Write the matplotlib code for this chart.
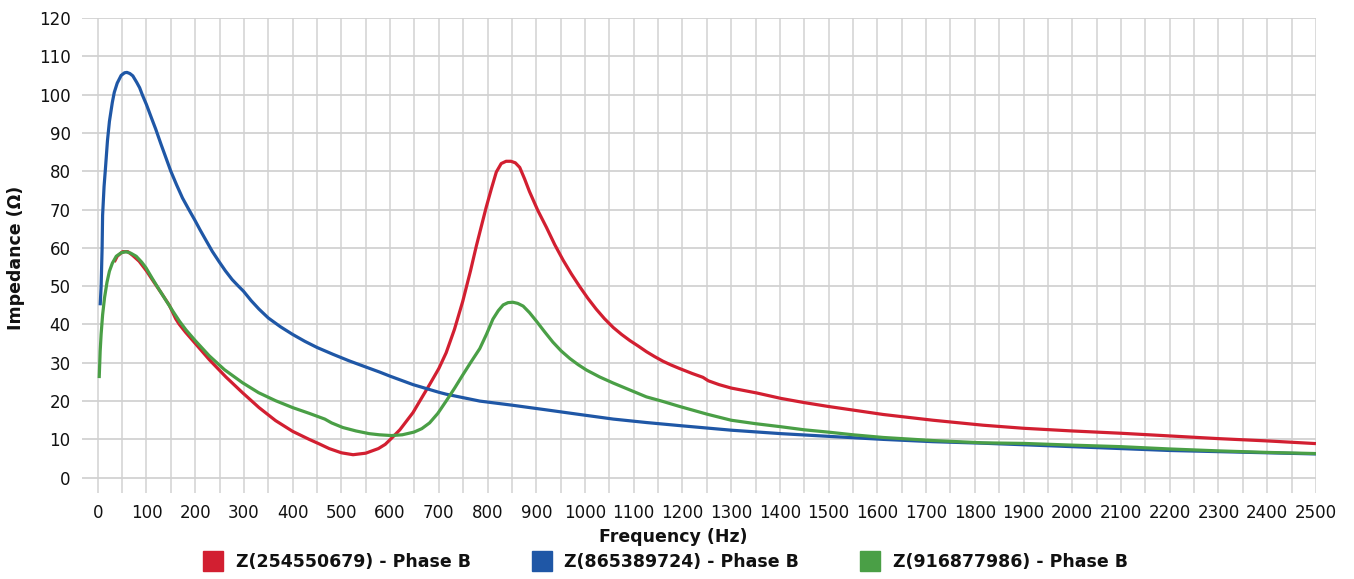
import matplotlib
matplotlib.use("Agg")
import matplotlib.pyplot as plt
from matplotlib.lines import Line2D

# ---- data ----
blue_f = [5, 7, 9, 10, 13, 16, 20, 24, 30, 34, 40, 48, 55, 60, 66, 72, 80, 86, 92, 100,
          110, 119, 130, 140, 150, 162, 174, 187, 199, 210, 222, 235, 249, 262, 276, 288,
          299, 315, 331, 350, 375, 400, 425, 450, 483, 516, 550, 578, 600, 647, 700, 715,
          784, 852, 921, 989, 1058, 1126, 1194, 1300, 1402, 1499, 1612, 1714, 1817, 1900,
          2000, 2100, 2200, 2300, 2400, 2500]
blue_z = [45, 50, 60, 68.5, 76, 81, 88, 93, 98, 100.6, 103, 105, 105.7, 105.8, 105.5, 104.9,
          103.2, 101.8, 99.8, 97.4, 94, 91, 87, 83.5, 80, 76.4, 73, 70, 67.3, 64.7, 62, 59.1,
          56.4, 54, 51.7, 50.1, 48.7, 46.2, 44, 41.7, 39.4, 37.4, 35.6, 34, 32.2, 30.5, 28.9,
          27.6, 26.5, 24.3, 22.3, 21.8, 20.0, 18.9, 17.7, 16.5, 15.3, 14.4, 13.6, 12.4, 11.5,
          10.8, 10, 9.4, 9.0, 8.6, 8.1, 7.6, 7.1, 6.8, 6.5, 6.2]

red_f = [34, 40, 51, 62, 72, 85, 100, 113, 130, 147, 160, 167, 180, 195, 210, 229, 263, 297,
         331, 365, 400, 434, 455, 475, 500, 524, 550, 576, 590, 603, 620, 647, 660, 681, 700,
         715, 732, 749, 765, 777, 787, 797, 808, 818, 828, 838, 848, 857, 866, 876, 886, 903,
         921, 938, 955, 972, 989, 1006, 1023, 1040, 1058, 1075, 1092, 1110, 1126, 1143, 1160,
         1177, 1194, 1220, 1242, 1253, 1275, 1300, 1353, 1402, 1450, 1499, 1612, 1714, 1817,
         1900, 2000, 2100, 2200, 2300, 2400, 2500]
red_z = [56.3, 57.8, 59, 59, 58, 56.5, 54, 51.5, 48.3, 45, 41.5, 40.1, 38, 35.8, 33.6, 30.8,
         26.3, 22.2, 18.3, 14.9, 12.1, 10, 8.8, 7.6, 6.5, 6.0, 6.4, 7.6, 8.7, 10.3, 12.5, 17,
         19.8, 24.3, 28.5, 32.6, 38.7, 46, 54, 60.5, 65.5, 70.5, 75.5, 79.8, 82, 82.6, 82.6,
         82.2, 81, 78, 74.7, 69.8, 65.3, 60.8, 56.8, 53.2, 49.9, 46.8, 44, 41.5, 39.2, 37.4,
         35.8, 34.3, 32.9, 31.6, 30.4, 29.4, 28.5, 27.2, 26.2, 25.3, 24.3, 23.4, 22.1, 20.7,
         19.6, 18.6, 16.5, 15.0, 13.7, 12.9, 12.2, 11.6, 10.9, 10.2, 9.6, 8.9]

green_f = [3, 5, 7, 10, 14, 19, 24, 30, 38, 48, 58, 68, 79, 90, 99, 112, 126, 140, 154, 168,
           181, 200, 229, 260, 297, 330, 365, 400, 434, 466, 480, 503, 530, 557, 578, 603, 625,
           649, 665, 681, 698, 715, 732, 749, 766, 784, 798, 811, 822, 832, 842, 852, 862, 873,
           886, 900, 917, 934, 951, 969, 986, 1003, 1030, 1058, 1092, 1126, 1160, 1194, 1250,
           1300, 1350, 1402, 1450, 1499, 1550, 1612, 1714, 1817, 1900, 2000, 2100, 2200, 2300,
           2400, 2500]
green_z = [26, 33, 37.5, 42.5, 47, 51, 53.9, 56, 57.8, 58.7, 59, 58.6, 57.8, 56.3, 54.8, 52,
           49.1, 46.3, 43.5, 40.8, 38.6, 35.8, 31.8, 28.2, 24.8, 22.2, 20.1, 18.3, 16.8, 15.3,
           14.3, 13.1, 12.2, 11.5, 11.2, 11.0, 11.2, 11.9, 12.8, 14.3, 16.8, 20, 23.3, 26.8,
           30.2, 33.7, 37.5, 41.4, 43.6, 45.1, 45.7, 45.8, 45.5, 44.8, 43.1, 40.9, 38.1, 35.4,
           33.1, 31.1, 29.5, 28.1, 26.3, 24.7, 22.9, 21.1, 19.9, 18.6, 16.6, 15.0, 14.1, 13.3,
           12.5, 11.9, 11.2, 10.5, 9.7, 9.1, 8.95, 8.5, 8.1, 7.5, 7.0, 6.6, 6.3]

series_labels = ["Z(254550679) - Phase B", "Z(865389724) - Phase B", "Z(916877986) - Phase B"]
x_ticks = list(range(0, 2501, 100))
y_ticks = list(range(0, 121, 10))

# ---- style ----
RED, BLUE, GREEN = "#D21F31", "#1F57A6", "#4A9F46"
plt.rcParams['font.family'] = ['DejaVu Sans']

fig = plt.figure(figsize=(13.54, 5.79), dpi=100)
ax = fig.add_axes([0.0603, 0.1485, 0.9116, 0.8204])

ax.plot(red_f, red_z, color=RED, lw=2.3, solid_capstyle='butt', zorder=3)
ax.plot(blue_f, blue_z, color=BLUE, lw=2.3, solid_capstyle='butt', zorder=3)
ax.plot(green_f, green_z, color=GREEN, lw=2.3, solid_capstyle='butt', zorder=4)

ax.set_xlim(-33, 2500)
ax.set_ylim(-4, 120)
ax.set_xticks(x_ticks)
ax.set_xticks(list(range(50, 2500, 100)), minor=True)
ax.set_yticks(y_ticks)
ax.grid(True, which='both', axis='x', color='#d2d2d2', lw=1.1)
ax.grid(True, which='major', axis='y', color='#d2d2d2', lw=1.3)
ax.set_axisbelow(True)
for s in ax.spines.values():
    s.set_visible(False)
ax.tick_params(which='both', length=0)
ax.tick_params(axis='x', pad=8, labelsize=12, colors='#111111')
ax.tick_params(axis='y', pad=8, labelsize=12, colors='#111111')

fig.text(0.497, 0.072, "Frequency (Hz)", ha='center', va='center',
         fontsize=12.5, fontweight='bold', color='#111111')
fig.text(0.012, 0.555, "Impedance (Ω)", ha='center', va='center', rotation=90,
         fontsize=12.5, fontweight='bold', color='#111111')

handles = [Line2D([], [], marker='s', ls='none', markersize=14, color=c, markeredgecolor=c)
           for c in (RED, BLUE, GREEN)]
leg = fig.legend(handles, series_labels, loc='center', bbox_to_anchor=(0.492, 0.029),
                 ncol=3, frameon=False, columnspacing=3.6, handletextpad=0.8,
                 handlelength=1.0, prop={'weight': 'bold', 'size': 12.5})
for t in leg.get_texts():
    t.set_color('#111111')

fig.savefig("out.png", dpi=100)
